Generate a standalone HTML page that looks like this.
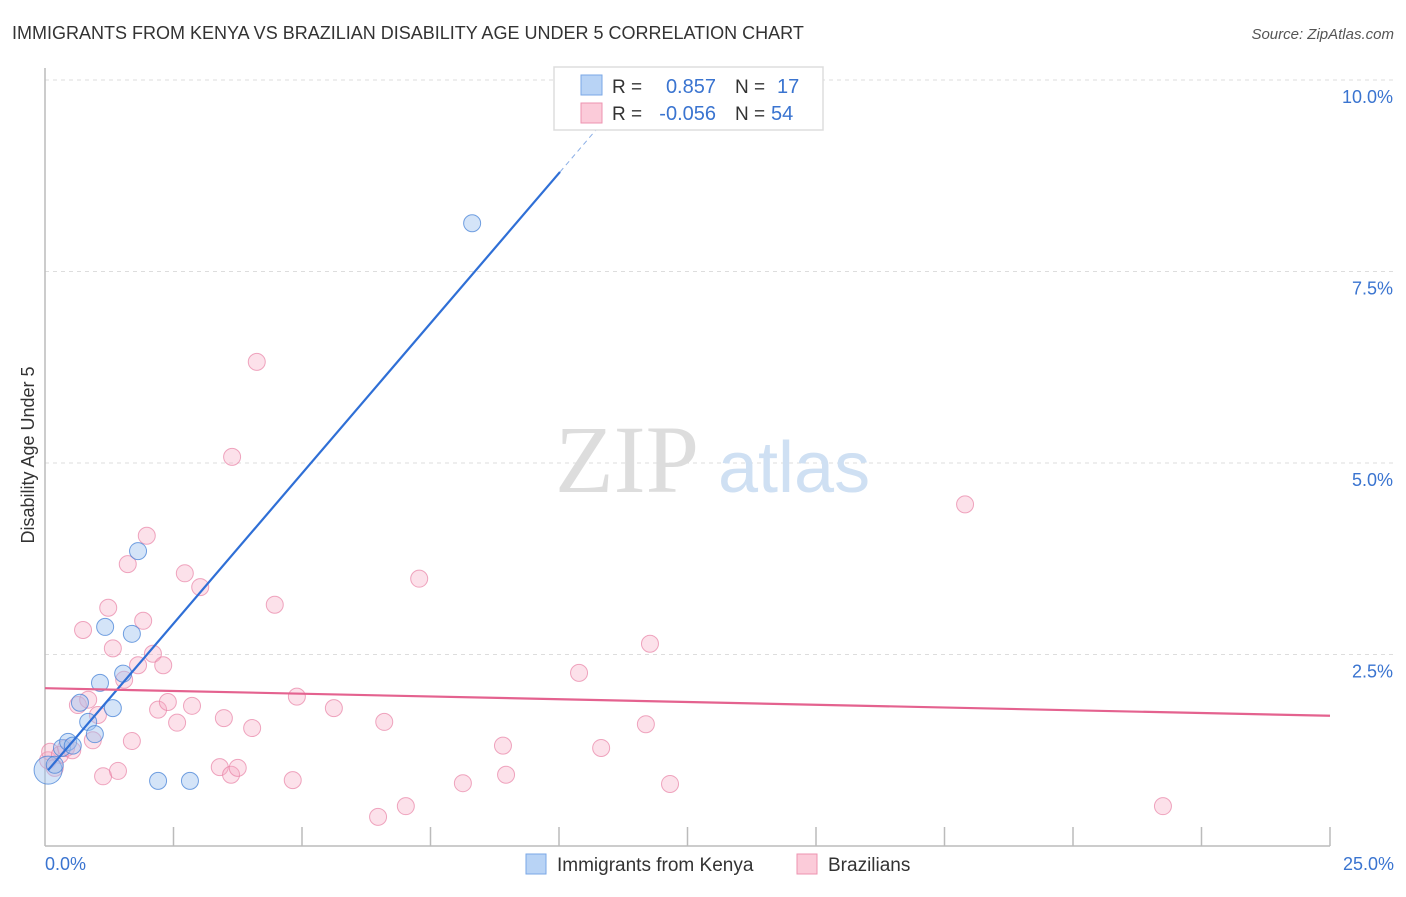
<!DOCTYPE html>
<html><head><meta charset="utf-8"><style>
body{margin:0;background:#fff;font-family:"Liberation Sans",sans-serif}
svg text{font-family:"Liberation Sans",sans-serif}
</style></head><body>
<svg id="chart" width="1406" height="892" viewBox="0 0 1406 892" xmlns="http://www.w3.org/2000/svg">
<text x="12" y="39" font-size="18" fill="#333">IMMIGRANTS FROM KENYA VS BRAZILIAN DISABILITY AGE UNDER 5 CORRELATION CHART</text>
<text x="1394" y="39" font-size="15" fill="#555" font-style="italic" text-anchor="end">Source: ZipAtlas.com</text>
<text x="0" y="0" font-size="18" fill="#333" text-anchor="middle" transform="translate(34,455) rotate(-90)">Disability Age Under 5</text>
<g id="grid"></g>
<g id="axes"></g>
<text x="555" y="492" font-size="96" fill="#ddd" font-family="Liberation Serif" style="font-family:'Liberation Serif',serif">ZIP</text>
<text x="718" y="492" font-size="72" fill="#cfe0f3">atlas</text>
<g id="marks"></g>
<g>
<rect x="554" y="67" width="269" height="63" fill="#fff" stroke="#ddd" stroke-width="1.5"/>
<rect x="581" y="75" width="21" height="20" fill="#b8d3f5" stroke="#7aa7e6"/>
<rect x="581" y="103" width="21" height="20" fill="#fbcbd9" stroke="#ee93b0"/>
<text x="612" y="93" font-size="19" fill="#333">R =</text>
<text x="716" y="93" font-size="20" fill="#3a74d0" text-anchor="end">0.857</text>
<text x="735" y="93" font-size="19" fill="#333">N =</text>
<text x="777" y="93" font-size="20" fill="#3a74d0">17</text>
<text x="612" y="120" font-size="19" fill="#333">R =</text>
<text x="716" y="120" font-size="20" fill="#3a74d0" text-anchor="end">-0.056</text>
<text x="735" y="120" font-size="19" fill="#333">N =</text>
<text x="771" y="120" font-size="20" fill="#3a74d0">54</text>
</g>
<g>
<rect x="526" y="854" width="20" height="20" fill="#b8d3f5" stroke="#7aa7e6"/>
<text x="557" y="871" font-size="19" fill="#333">Immigrants from Kenya</text>
<rect x="797" y="854" width="20" height="20" fill="#fbcbd9" stroke="#ee93b0"/>
<text x="828" y="871" font-size="19" fill="#333">Brazilians</text>
</g>
</svg>
<script>
const yTicks=[2.5,5.0,7.5,10.0];
const yTickLabels=["2.5%","5.0%","7.5%","10.0%"];
const xTickLabels=["0.0%","25.0%"];
const kenyaX=[0.06,0.19,0.33,0.45,0.54,0.68,0.84,0.97,1.07,1.17,1.32,1.52,1.69,1.81,2.20,2.82,8.31];
const kenyaY=[0.99,1.06,1.28,1.36,1.31,1.87,1.62,1.46,2.13,2.86,1.80,2.25,2.77,3.85,0.85,0.85,8.13];
const brazilX=[0.06,0.10,0.19,0.29,0.41,0.53,0.64,0.74,0.84,0.93,1.03,1.13,1.23,1.32,1.42,1.54,1.61,1.69,1.81,1.91,1.98,2.10,2.20,2.30,2.39,2.57,2.72,2.86,3.02,3.48,3.40,3.62,3.64,3.75,4.03,4.12,4.47,4.82,4.90,5.62,6.48,6.60,7.02,7.28,8.13,8.91,8.97,10.39,10.82,11.69,11.77,12.16,17.90,21.75];
const brazilY=[1.12,1.23,1.02,1.19,1.28,1.25,1.84,2.82,1.91,1.38,1.71,0.91,3.11,2.58,0.98,2.17,3.68,1.37,2.36,2.94,4.05,2.51,1.78,2.36,1.88,1.61,3.56,1.83,3.38,1.67,1.03,0.93,5.08,1.02,1.54,6.32,3.15,0.86,1.95,1.80,0.38,1.62,0.52,3.49,0.82,1.31,0.93,2.26,1.28,1.59,2.64,0.81,4.46,0.52];
const kenyaTrend=[0.06,0.99,10.02,8.80,10.85];
const brazilTrend=[0,2.06,25,1.70];
const X0=45,X1=1330,Y0=846,Y10=80;
const sx=v=>X0+(v/25)*(X1-X0);
const sy=v=>Y0-(v/10)*(Y0-Y10);
const NS="http://www.w3.org/2000/svg";
function mk(t,a,p){const e=document.createElementNS(NS,t);for(const k in a)e.setAttribute(k,a[k]);p.appendChild(e);return e;}
const grid=document.getElementById('grid'),axes=document.getElementById('axes'),marks=document.getElementById('marks');
yTicks.forEach((v,i)=>{
 const l=mk('line',{x1:X0,x2:1394,y1:sy(v),y2:sy(v),stroke:'#ddd','stroke-dasharray':'4,4'},grid);
 
 
 const t=mk('text',{x:1393,y:sy(v)+23,'font-size':18,fill:'#3a74d0','text-anchor':'end'},grid);
 t.textContent=yTickLabels[i];
 
 
});
mk('line',{x1:X0,x2:X0,y1:68,y2:Y0,stroke:'#bbb','stroke-width':1.5},axes);
mk('line',{x1:X0,x2:X1,y1:Y0,y2:Y0,stroke:'#bbb','stroke-width':1.5},axes);
for(let i=1;i<=10;i++){const x=X0+i*(X1-X0)/10;mk('line',{x1:x,x2:x,y1:827,y2:Y0,stroke:'#bbb','stroke-width':1.5},axes);}
[[0,'start',45],[25,'end',1394]].forEach((d,i)=>{
 const t=mk('text',{x:d[2],y:870,'font-size':18,fill:'#3a74d0','text-anchor':d[1]},axes);
 t.textContent=xTickLabels[i];
 
 
});
brazilX.forEach((v,i)=>{
 const c=mk('circle',{cx:sx(v),cy:sy(brazilY[i]),r:8.5,fill:'rgba(246,170,196,0.35)',stroke:'rgba(232,130,165,0.7)','stroke-width':1},marks);
 
 
});
kenyaX.forEach((v,i)=>{
 const c=mk('circle',{cx:sx(v),cy:sy(kenyaY[i]),r:i==0?14:8.5,fill:'rgba(160,196,240,0.45)',stroke:'rgba(70,130,215,0.75)','stroke-width':1},marks);
 
 
});
const slope=(kenyaTrend[3]-kenyaTrend[1])/(kenyaTrend[2]-kenyaTrend[0]);
let l=mk('line',{x1:sx(kenyaTrend[0]),y1:sy(kenyaTrend[1]),x2:sx(kenyaTrend[2]),y2:sy(kenyaTrend[3]),stroke:'#2f6fd6','stroke-width':2.2},marks);


l=mk('line',{x1:sx(kenyaTrend[2]),y1:sy(kenyaTrend[3]),x2:sx(kenyaTrend[4]),y2:sy(kenyaTrend[3]+slope*(kenyaTrend[4]-kenyaTrend[2])),stroke:'#8aaee6','stroke-width':1,'stroke-dasharray':'5,4'},marks);


l=mk('line',{x1:sx(brazilTrend[0]),y1:sy(brazilTrend[1]),x2:sx(brazilTrend[2]),y2:sy(brazilTrend[3]),stroke:'#e4628f','stroke-width':2.2},marks);


</script>
</body></html>
